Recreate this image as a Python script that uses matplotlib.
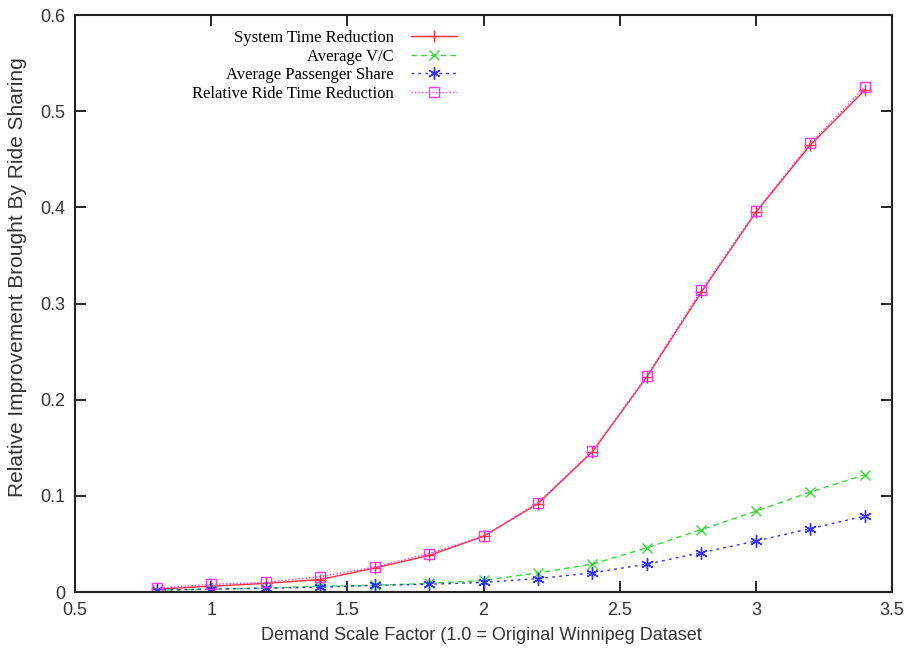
import matplotlib.pyplot as plt

scale = [0.8, 1.0, 1.2, 1.4, 1.6, 1.8, 2.0, 2.2, 2.4, 2.6, 2.8, 3.0, 3.2, 3.4]
system_time = [0.003, 0.006, 0.009, 0.013, 0.025, 0.038, 0.058, 0.092, 0.146, 0.224, 0.312, 0.395, 0.465, 0.522]
avg_vc = [0.002, 0.003, 0.004, 0.006, 0.007, 0.009, 0.012, 0.020, 0.029, 0.046, 0.065, 0.084, 0.104, 0.122]
passenger_share = [0.002, 0.003, 0.004, 0.005, 0.007, 0.008, 0.010, 0.014, 0.020, 0.029, 0.041, 0.053, 0.066, 0.079]
ride_time = [0.004, 0.008, 0.010, 0.016, 0.026, 0.040, 0.058, 0.093, 0.147, 0.225, 0.314, 0.396, 0.467, 0.525]

fig = plt.figure(figsize=(9.12, 6.49), dpi=100)
ax = fig.add_axes([0.0822, 0.0878, 0.896, 0.889])

ax.plot(scale, system_time, color="#ff3030", lw=1, marker="+", ms=9, mew=1,
        label="System Time Reduction")
ax.plot(scale, avg_vc, color="#33dd33", lw=1, ls=(0, (4, 3)), marker="x", ms=7, mew=1,
        label="Average V/C")
ax.plot(scale, passenger_share, color="#3333ff", lw=1, ls=(0, (2, 3)), marker=(6, 2, 0), ms=9, mew=1,
        label="Average Passenger Share")
ax.plot(scale, ride_time, color="#ff33ff", lw=1, ls=(0, (1, 1.5)), marker="s", ms=7, mew=1,
        mfc="none", label="Relative Ride Time Reduction")

ax.set_xlim(0.5, 3.5)
ax.set_ylim(0, 0.6)
ax.set_xticks([0.5, 1, 1.5, 2, 2.5, 3, 3.5])
ax.set_xticklabels(["0.5", "1", "1.5", "2", "2.5", "3", "3.5"])
ax.set_yticks([0, 0.1, 0.2, 0.3, 0.4, 0.5, 0.6])
ax.set_yticklabels(["0", "0.1", "0.2", "0.3", "0.4", "0.5", "0.6"])
ax.tick_params(direction="in", top=True, right=True, length=8, width=1.2,
               labelsize=13, pad=7, labelcolor="#333333")
for lbl in ax.get_xticklabels() + ax.get_yticklabels():
    lbl.set_family("Liberation Sans")
for sp in ax.spines.values():
    sp.set_linewidth(1.5)
    sp.set_color("#222222")

ax.set_xlabel("Demand Scale Factor (1.0 = Original Winnipeg Dataset", fontsize=13,
              family="Liberation Sans", color="#333333")
ax.set_ylabel("Relative Improvement Brought By Ride Sharing", fontsize=15,
              family="Liberation Sans", color="#333333")
ax.xaxis.set_label_coords(0.497, -0.06)
ax.yaxis.set_label_coords(-0.059, 0.546)

leg = ax.legend(loc="upper left", bbox_to_anchor=(0.125, 1.0), frameon=False,
                markerfirst=False, handlelength=2.8, handletextpad=1.0,
                labelspacing=0.15,
                prop={"family": "Liberation Serif", "size": 12})
for t in leg.get_texts():
    t.set_ha("right")
leg._legend_box.align = "right"

fig.savefig("out.png", dpi=100)
